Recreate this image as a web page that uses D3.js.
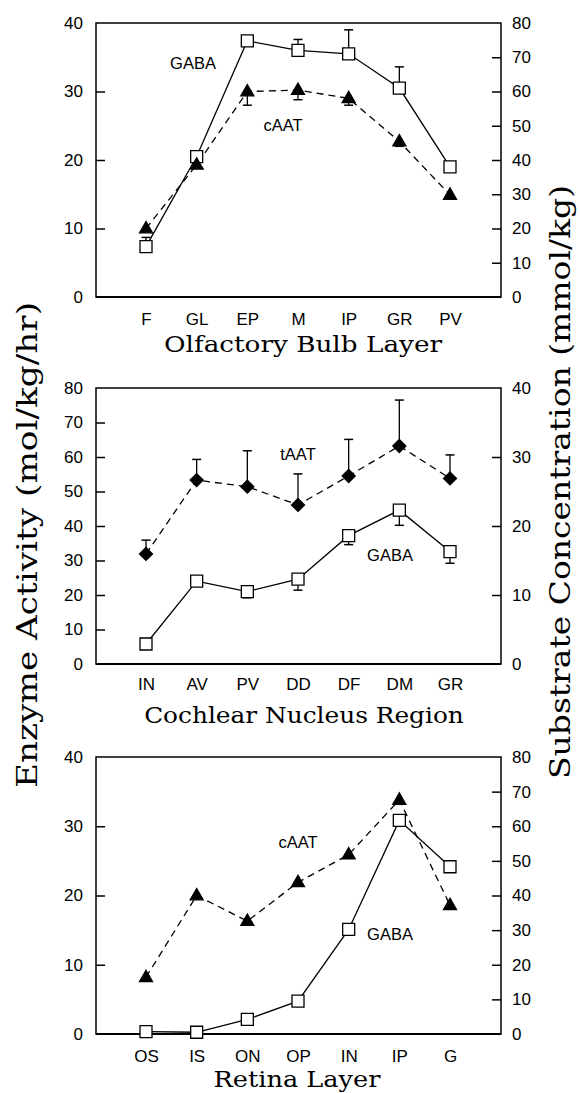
<!DOCTYPE html>
<html><head><meta charset="utf-8">
<script src="https://cdn.jsdelivr.net/npm/d3@7"></script>
<style>
html,body{margin:0;padding:0;background:#fff;}
svg{display:block;}
</style></head>
<body>
<svg id="chart" width="580" height="1093"></svg>
<script>
// ---------- DATA ----------
const olfCategories = ["F","GL","EP","M","IP","GR","PV"];
const olfGABA = [14.7, 41, 74.8, 72, 71, 61, 38];          // right axis, mmol/kg
const olfGABAErr = [2.7, 0, 0, 3.2, 7, 6.2, 0];            // upward
const olfCAAT = [10, 19.3, 30, 30.2, 29, 22.7, 14.9];      // left axis
const olfCAATErr = [0, 0, 2, 1.4, 1, 0.7, 0];              // downward

const cochCategories = ["IN","AV","PV","DD","DF","DM","GR"];
const cochTAAT = [31.9, 53.3, 51.4, 46.1, 54.5, 63.2, 53.8]; // left axis
const cochTAATErr = [4, 6, 10.4, 9, 10.6, 13.3, 6.8];        // upward
const cochGABA = [2.9, 12.0, 10.5, 12.3, 18.6, 22.3, 16.3];  // right axis
const cochGABAErr = [0, 0, 0.9, 1.6, 1.3, 2.2, 1.7];         // downward

const retCategories = ["OS","IS","ON","OP","IN","IP","G"];
const retCAAT = [8.2, 20.0, 16.3, 21.9, 25.9, 33.8, 18.6];   // left axis
const retGABA = [0.7, 0.5, 4.2, 9.5, 30.2, 61.7, 48.3];      // right axis

const olfLeftTicks = [0,10,20,30,40], olfRightTicks = [0,10,20,30,40,50,60,70,80];
const cochLeftTicks = [0,10,20,30,40,50,60,70,80], cochRightTicks = [0,10,20,30,40];
const retLeftTicks = [0,10,20,30,40], retRightTicks = [0,10,20,30,40,50,60,70,80];

const xTitles = ["Olfactory Bulb Layer","Cochlear Nucleus Region","Retina Layer"];
const yLeftTitle = "Enzyme Activity (mol/kg/hr)";
const yRightTitle = "Substrate Concentration (mmol/kg)";

// ---------- LAYOUT ----------
const svg = d3.select("#chart");
const X0 = 96, X1 = 501;
const sansFont = '"Liberation Sans", Arial, sans-serif';
const serifFont = '"DejaVu Serif", "Liberation Serif", serif';
const CHAR = 13.9;   // typewriter pitch of the titles (px per character)

function squarePath(x,y,s){const h=s/2;return `M${x-h},${y-h}h${s}v${s}h${-s}Z`;}
function triPath(x,y,w){const h=w*0.87;return `M${x},${y-h*0.62}L${x+w/2},${y+h*0.38}L${x-w/2},${y+h*0.38}Z`;}
function diaPath(x,y,w){const h=w/2;return `M${x},${y-h}L${x+h},${y}L${x},${y+h}L${x-h},${y}Z`;}

function panel(cfg){
  const g = svg.append("g");
  const x = d3.scalePoint().domain(cfg.cats).range([146, 450]);
  const yL = d3.scaleLinear().domain([0, cfg.leftMax]).range([cfg.bottom, cfg.top]);
  const yR = d3.scaleLinear().domain([0, cfg.rightMax]).range([cfg.bottom, cfg.top]);

  // frame
  g.append("rect").attr("x",X0).attr("y",cfg.top).attr("width",X1-X0).attr("height",cfg.bottom-cfg.top)
    .attr("fill","none").attr("stroke","#000").attr("stroke-width",1.5);
  g.append("line").attr("x1",X0).attr("x2",X1).attr("y1",cfg.bottom).attr("y2",cfg.bottom)
    .attr("stroke","#000").attr("stroke-width",2);

  // left axis (ticks inward)
  const axL = g.append("g").attr("transform",`translate(${X0},0)`)
    .call(d3.axisLeft(yL).tickValues(cfg.leftTicks).tickSizeInner(-9).tickSizeOuter(0).tickPadding(13));
  axL.select(".domain").remove();
  axL.selectAll(".tick line").attr("stroke-width",1.5);
  axL.selectAll(".tick").filter(d=>d===0||d===cfg.leftMax).select("line").remove();
  axL.selectAll("text").attr("font-size",17).attr("font-family",sansFont).attr("fill","#000");

  const axR = g.append("g").attr("transform",`translate(${X1},0)`)
    .call(d3.axisRight(yR).tickValues(cfg.rightTicks).tickSizeInner(-9).tickSizeOuter(0).tickPadding(11));
  axR.select(".domain").remove();
  axR.selectAll(".tick line").attr("stroke-width",1.5);
  axR.selectAll(".tick").filter(d=>d===0||d===cfg.rightMax).select("line").remove();
  axR.selectAll("text").attr("font-size",17).attr("font-family",sansFont).attr("fill","#000");

  // x labels
  const axB = g.append("g").attr("transform",`translate(0,${cfg.bottom})`)
    .call(d3.axisBottom(x).tickSize(0).tickPadding(0));
  axB.select(".domain").remove();
  axB.selectAll("text").attr("font-size",17).attr("font-family",sansFont).attr("fill","#000")
    .attr("dy",null).attr("y",cfg.xLabelY - cfg.bottom);

  // x title
  g.append("text").attr("x",cfg.titleX).attr("y",cfg.titleY).attr("text-anchor","middle")
    .attr("font-family",serifFont).attr("font-size",23).attr("fill","#000")
    .attr("textLength", CHAR*cfg.title.length).attr("lengthAdjust","spacingAndGlyphs")
    .text(cfg.title);

  // series
  cfg.series.forEach(s=>{
    const ys = s.axis==="L"? yL : yR;
    const pts = s.values.map((v,i)=>[x(cfg.cats[i]), ys(v)]);
    g.append("path").attr("d", d3.line()(pts)).attr("fill","none").attr("stroke","#000")
      .attr("stroke-width",1.3).attr("stroke-dasharray", s.dashed? "7,5" : null);
    if(s.err){
      s.err.forEach((e,i)=>{
        if(!e) return;
        const v = s.values[i];
        const ve = s.errDir==="up"? v+e : v-e;
        const xx = x(cfg.cats[i]);
        g.append("line").attr("x1",xx).attr("x2",xx).attr("y1",ys(v)).attr("y2",ys(ve))
          .attr("stroke","#000").attr("stroke-width",1.3);
        g.append("line").attr("x1",xx-4.5).attr("x2",xx+4.5).attr("y1",ys(ve)).attr("y2",ys(ve))
          .attr("stroke","#000").attr("stroke-width",1.5);
      });
    }
  });
  cfg.series.forEach(s=>{
    const ys = s.axis==="L"? yL : yR;
    s.values.forEach((v,i)=>{
      const xx = x(cfg.cats[i]), yy = ys(v);
      let d, fill;
      if(s.marker==="square"){d=squarePath(xx,yy,12);fill="#fff";}
      else if(s.marker==="tri"){d=triPath(xx,yy,13);fill="#000";}
      else {d=diaPath(xx,yy,13);fill="#000";}
      g.append("path").attr("d",d).attr("fill",fill).attr("stroke","#000").attr("stroke-width",1.3);
    });
  });

  // series labels
  cfg.labels.forEach(l=>{
    g.append("text").attr("x",l.x).attr("y",l.y).attr("text-anchor","middle")
      .attr("font-family",sansFont).attr("font-size",16.5).attr("fill","#000").text(l.text);
  });
}

panel({cats:olfCategories, top:23, bottom:297, leftMax:40, rightMax:80,
  leftTicks:olfLeftTicks, rightTicks:olfRightTicks, xLabelY:325,
  title:xTitles[0], titleX:303, titleY:352,
  series:[
    {values:olfGABA, axis:"R", marker:"square", dashed:false, err:olfGABAErr, errDir:"up"},
    {values:olfCAAT, axis:"L", marker:"tri", dashed:true, err:olfCAATErr, errDir:"down"}
  ],
  labels:[{text:"GABA",x:193,y:69},{text:"cAAT",x:283,y:131}]
});

panel({cats:cochCategories, top:388, bottom:664, leftMax:80, rightMax:40,
  leftTicks:cochLeftTicks, rightTicks:cochRightTicks, xLabelY:690,
  title:xTitles[1], titleX:304, titleY:723,
  series:[
    {values:cochTAAT, axis:"L", marker:"dia", dashed:true, err:cochTAATErr, errDir:"up"},
    {values:cochGABA, axis:"R", marker:"square", dashed:false, err:cochGABAErr, errDir:"down"}
  ],
  labels:[{text:"tAAT",x:298,y:460},{text:"GABA",x:390,y:561}]
});

panel({cats:retCategories, top:757, bottom:1034, leftMax:40, rightMax:80,
  leftTicks:retLeftTicks, rightTicks:retRightTicks, xLabelY:1062,
  title:xTitles[2], titleX:297, titleY:1087,
  series:[
    {values:retCAAT, axis:"L", marker:"tri", dashed:true},
    {values:retGABA, axis:"R", marker:"square", dashed:false}
  ],
  labels:[{text:"cAAT",x:298,y:848},{text:"GABA",x:390,y:940}]
});

// y titles
svg.append("text").attr("transform","translate(37,545) rotate(-90)").attr("text-anchor","middle")
  .attr("font-family",serifFont).attr("font-size",27).attr("fill","#000")
  .attr("textLength", 18*yLeftTitle.length).attr("lengthAdjust","spacingAndGlyphs")
  .text(yLeftTitle);
svg.append("text").attr("transform","translate(570,482) rotate(-90)").attr("text-anchor","middle")
  .attr("font-family",serifFont).attr("font-size",27).attr("fill","#000")
  .attr("textLength", 18*yRightTitle.length).attr("lengthAdjust","spacingAndGlyphs")
  .text(yRightTitle);
</script>
</body></html>
